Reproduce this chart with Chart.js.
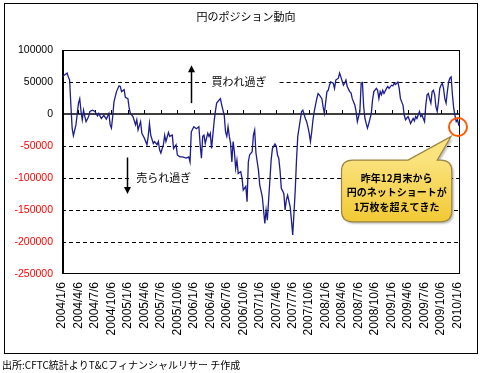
<!DOCTYPE html>
<html><head><meta charset="utf-8">
<script src="https://cdn.jsdelivr.net/npm/chart.js@4.4.1/dist/chart.umd.min.js"></script>
<style>html,body{margin:0;padding:0;background:#fff}canvas{display:block}</style>
</head><body>
<canvas id="c" width="480" height="373" style="width:480px;height:373px"></canvas>
<script>
// ---- text ----
const chartTitle = '円のポジション動向';
const sourceText = '出所:CFTC統計よりT&Cフィナンシャルリサー チ作成';
const overBoughtText = '買われ過ぎ';
const overSoldText = '売られ過ぎ';
const calloutLines = ['昨年12月末から', '円のネットショートが', '1万枚を超えてきた'];

// ---- x axis: week index since 2004/1/6, labelled every quarter ----
const xTickWeeks = [0,13,26,39,52,65,78,91,104,117,130,143,156,169,182,195,208,221,234,247,260,273,286,299,312];
const xTickLabels = ['2004/1/6','2004/4/6','2004/7/6','2004/10/6','2005/1/6','2005/4/6','2005/7/6','2005/10/6',
  '2006/1/6','2006/4/6','2006/7/6','2006/10/6','2007/1/6','2007/4/6','2007/7/6','2007/10/6',
  '2008/1/6','2008/4/6','2008/7/6','2008/10/6','2009/1/6','2009/4/6','2009/7/6','2009/10/6','2010/1/6'];

// ---- y axis ----
const yMin = -250000, yMax = 100000, yStep = 50000;
const dashedLevels = [50000, -50000, -100000, -150000, -200000];

// ---- series: yen net position (thousand contracts) ----
const weeks = [0,2,4,5,6,7,8,9,11,13,14,15,16,17,18,19,21,22,24,26,28,29,31,33,35,37,38,39,40,41,43,45,46,47,49,50,52,53,54,56,58,59,60,62,63,65,67,68,69,70,72,73,75,76,77,78,80,
81,82,84,85,87,88,90,91,93,95,98,100,101,102,104,106,108,109,110,111,112,113,115,116,117,118,120,121,122,124,125,126,128,129,130,131,
132,133,134,135,136,137,138,139,141,142,143,145,146,147,148,150,151,152,153,155,156,158,159,160,161,162,163,164,165,166,168,169,170,171,172,173,175,176,177,178,180,181,182,183,184,185,186,
188,189,190,192,193,194,195,196,197,198,199,201,202,203,205,206,207,209,210,211,212,214,215,216,218,219,220,222,223,224,225,227,228,229,231,232,233,235,236,237,238,239,240,241,242,244,245,246,248,
249,250,251,252,253,254,256,257,258,260,261,262,263,265,266,267,269,270,271,273,274,275,277,278,279,280,282,283,284,286,
287,288,289,290,291,292,293,294,295,296,297,298,299,300,301,302,303,304,305,306,307,308,309,310,311,312,313,314];
const netK = [58,61,64,58,53,14,-22,-34,-17,17,24,4,-9,6,-4,-12,-4,4,6,4,-3,1,-7,-2,-8,1,-17,-22,-4,19,35,44,43,35,38,26,24,9,1,-4,-17,-9,-25,-12,-30,-38,-48,-35,-15,-33,-46,-43,-48,-43,-56,-61,-48,
-33,-43,-29,-35,-33,-54,-48,-64,-67,-67,-69,-67,-75,-28,-20,-23,-20,-48,-69,-35,-33,-46,-30,-35,-30,-54,-12,4,17,22,24,14,-2,-28,-35,-20,
-35,-46,-75,-43,-59,-85,-72,-93,-90,-100,-119,-113,-137,-75,-64,-59,-33,-25,-61,-88,-111,-129,-150,-171,-150,-166,-134,-103,-72,-54,-47,-50,-64,-69,-88,-116,-124,-150,-134,-127,-145,-166,-189,-155,-119,-72,-35,
-9,4,6,-7,-12,-20,-30,-43,-28,-9,4,24,32,30,24,11,1,35,37,45,50,48,40,53,56,64,58,45,48,53,43,35,33,24,14,4,-12,4,48,49,11,-7,-15,-22,-15,1,22,35,40,
37,24,35,30,37,32,40,43,40,45,44,48,46,50,40,24,14,-2,-9,-4,-9,-15,-7,-11,-4,-7,4,-4,-2,-12,
14,30,32,24,17,35,37,30,11,4,19,40,45,48,40,24,17,35,50,56,58,30,9,-2,-12,-9,-17,-15];

const FONT_LAT = '"Liberation Sans", Arial, sans-serif';
const FONT_JP = '"Noto Sans CJK JP", "Liberation Sans", sans-serif';

function arrow(ctx, x, y1, y2) {
  const dir = y2 < y1 ? -1 : 1;
  ctx.beginPath(); ctx.moveTo(x, y1); ctx.lineTo(x, y2 - dir * 5); ctx.stroke();
  ctx.beginPath(); ctx.moveTo(x, y2); ctx.lineTo(x - 3.5, y2 - dir * 7); ctx.lineTo(x + 3.5, y2 - dir * 7); ctx.closePath(); ctx.fill();
}

const annot = {
  id: 'annot',
  beforeDraw(chart) {
    const c = chart.ctx; c.save(); c.fillStyle = '#fff'; c.fillRect(0, 0, chart.width, chart.height); c.restore();
  },
  beforeDatasetsDraw(chart) {
    const {ctx, chartArea: a, scales: {x, y}} = chart;
    ctx.save();
    ctx.font = '11px ' + FONT_JP;
    const notes = [
      {text: overBoughtText, wk: 118, v: 50000},
      {text: overSoldText, wk: 58.5, v: -100000}
    ];
    const gaps = {};
    notes.forEach(n => {
      const tx = x.getPixelForValue(n.wk);
      const w = ctx.measureText(n.text).width;
      gaps[n.v] = [tx - 5, tx + w + 13];
      n.px = tx; n.py = y.getPixelForValue(n.v);
    });
    // dashed levels
    ctx.strokeStyle = '#000'; ctx.lineWidth = 1; ctx.setLineDash([4, 3]);
    dashedLevels.forEach(v => {
      const py = Math.round(y.getPixelForValue(v)) + 0.5;
      const g = gaps[v];
      ctx.beginPath();
      if (g) { ctx.moveTo(a.left, py); ctx.lineTo(g[0], py); ctx.moveTo(g[1], py); ctx.lineTo(a.right, py); }
      else { ctx.moveTo(a.left, py); ctx.lineTo(a.right, py); }
      ctx.stroke();
    });
    ctx.setLineDash([]);
    // zero line + tick marks
    const y0 = Math.round(y.getPixelForValue(0));
    ctx.lineWidth = 1.6; ctx.beginPath(); ctx.moveTo(a.left, y0); ctx.lineTo(a.right, y0); ctx.stroke();
    ctx.lineWidth = 1;
    xTickWeeks.forEach(w => {
      const px = Math.round(x.getPixelForValue(w)) + 0.5;
      ctx.beginPath(); ctx.moveTo(px, y0); ctx.lineTo(px, y0 - 4); ctx.stroke();
    });
    // plot frame
    ctx.lineWidth = 1;
    ctx.strokeRect(a.left + 0.5, a.top + 0.5, a.right - a.left - 1, a.bottom - a.top - 1);
    ctx.lineWidth = 2;
    ctx.beginPath(); ctx.moveTo(a.left + 1, a.top); ctx.lineTo(a.left + 1, a.bottom); ctx.stroke();
    // note texts
    ctx.fillStyle = '#000'; ctx.textBaseline = 'middle'; ctx.textAlign = 'left';
    notes.forEach(n => ctx.fillText(n.text, n.px, n.py));
    // arrows
    ctx.lineWidth = 1.5;
    arrow(ctx, Math.round(x.getPixelForValue(102)) + 0.5, y.getPixelForValue(17000), y.getPixelForValue(76000));
    arrow(ctx, Math.round(x.getPixelForValue(51)) + 0.5, y.getPixelForValue(-68000), y.getPixelForValue(-125000));
    ctx.restore();
  },
  afterDatasetsDraw(chart) {
    const {ctx, scales: {x, y}} = chart;
    ctx.save();
    // callout
    const L = x.getPixelForValue(220.5), R = x.getPixelForValue(307.5);
    const T = y.getPixelForValue(-72000), B = y.getPixelForValue(-168500);
    const b1 = x.getPixelForValue(273), b2 = x.getPixelForValue(296);
    const tipX = x.getPixelForValue(307), tipY = y.getPixelForValue(-35000);
    const r = 11;
    ctx.beginPath();
    ctx.moveTo(L + r, T);
    ctx.lineTo(b1, T); ctx.lineTo(tipX, tipY); ctx.lineTo(b2, T);
    ctx.lineTo(R - r, T); ctx.quadraticCurveTo(R, T, R, T + r);
    ctx.lineTo(R, B - r); ctx.quadraticCurveTo(R, B, R - r, B);
    ctx.lineTo(L + r, B); ctx.quadraticCurveTo(L, B, L, B - r);
    ctx.lineTo(L, T + r); ctx.quadraticCurveTo(L, T, L + r, T);
    ctx.closePath();
    const grad = ctx.createLinearGradient(0, T, 0, B);
    grad.addColorStop(0, '#fae27c'); grad.addColorStop(1, '#f2c935');
    ctx.shadowColor = 'rgba(0,0,0,0.25)'; ctx.shadowOffsetX = 2; ctx.shadowOffsetY = 2; ctx.shadowBlur = 2;
    ctx.fillStyle = grad; ctx.fill();
    ctx.shadowColor = 'transparent';
    ctx.strokeStyle = '#9a8440'; ctx.lineWidth = 1.2; ctx.stroke();
    ctx.fillStyle = '#000'; ctx.font = 'bold 10px ' + FONT_JP; ctx.textAlign = 'center'; ctx.textBaseline = 'middle';
    const cx = (L + R) / 2;
    calloutLines.forEach((t, i) => ctx.fillText(t, cx, T + 18 + i * 14.5));
    // orange circle
    ctx.strokeStyle = '#ff5a00'; ctx.lineWidth = 2;
    ctx.beginPath(); ctx.arc(x.getPixelForValue(312.4), y.getPixelForValue(-20300), 9, 0, Math.PI * 2); ctx.stroke();
    ctx.restore();
  },
  afterDraw(chart) {
    const ctx = chart.ctx;
    ctx.save();
    ctx.fillStyle = '#000'; ctx.textBaseline = 'middle';
    ctx.font = '11px ' + FONT_JP; ctx.textAlign = 'center';
    ctx.fillText(chartTitle, 246, 17);
    ctx.font = '10px ' + FONT_JP; ctx.textAlign = 'left';
    ctx.fillText(sourceText, 2, 365);
    ctx.strokeStyle = '#000'; ctx.lineWidth = 1;
    ctx.strokeRect(4.5, 3.5, 473, 350);
    ctx.restore();
  }
};

new Chart(document.getElementById('c'), {
  type: 'line',
  data: {
    datasets: [{
      data: weeks.map((w, i) => ({x: w, y: netK[i] * 1000})),
      borderColor: '#1c1c8e', borderWidth: 1.3, pointRadius: 0, tension: 0, fill: false
    }]
  },
  options: {
    responsive: false, animation: false, devicePixelRatio: 1,
    layout: {padding: {left: 0, right: 17, top: 50, bottom: 0}},
    plugins: {legend: {display: false}, tooltip: {enabled: false}, title: {display: false}},
    scales: {
      x: {
        type: 'linear', min: 0, max: 314,
        afterBuildTicks: s => { s.ticks = xTickWeeks.map(v => ({value: v})); },
        afterFit: s => { s.height = 99; },
        grid: {display: false, drawTicks: false}, border: {display: false},
        ticks: {autoSkip: false, minRotation: 90, maxRotation: 90, padding: 8, color: '#000',
          font: {family: FONT_LAT, size: 12}, callback: (v, i) => xTickLabels[i]}
      },
      y: {
        min: yMin, max: yMax,
        afterFit: s => { s.width = 62; },
        grid: {display: false, drawTicks: false}, border: {display: false},
        ticks: {stepSize: yStep, padding: 9, color: c => c.tick.value < 0 ? '#ff0000' : '#000',
          font: {family: FONT_LAT, size: 10.5}, callback: v => String(v)}
      }
    }
  },
  plugins: [annot]
});
</script>
</body></html>
